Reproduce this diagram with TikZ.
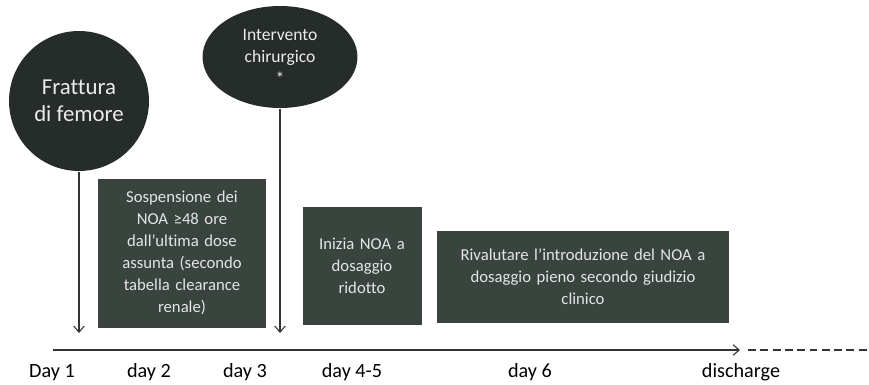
\documentclass[tikz,border=0pt]{standalone}
\usepackage{fontspec}
\setmainfont{Carlito}[Ligatures={TeX,NoCommon}]
\usetikzlibrary{arrows.meta,shapes.geometric}
\definecolor{scuro}{RGB}{38,44,41}
\definecolor{fondo}{RGB}{58,68,63}
\tikzset{
  evento/.style={fill=scuro,text=white!92!black,align=center,inner sep=0pt},
  fase/.style={fill=fondo,draw=black!75,line width=0.5pt,text=white!90!black,
    align=center,inner sep=2pt,font=\fontsize{9.5}{12.5}\selectfont},
  giorno/.style={anchor=base,font=\fontsize{11.5}{13}\selectfont},
}
\begin{document}
\begin{tikzpicture}[x=0.02cm,y=-0.02cm,line width=0.6pt,>={Straight Barb[length=3.5pt,width=6pt]}]
\useasboundingbox (0,0) rectangle (869,385);
% eventi
\node[evento,circle,minimum size=2.8cm,font=\fontsize{13}{15.5}\selectfont] (frattura) at (79,101) {Frattura\\di femore};
\node[evento,ellipse,minimum width=3.1cm,minimum height=2.04cm,font=\fontsize{10}{12.5}\selectfont] (intervento) at (280,57) {Intervento\\chirurgico\\*};
% fasi
\node[fase,minimum width=3.34cm,minimum height=2.96cm,text width=3.2cm] (sospensione) at (182,253)
  {Sospensione dei\\NOA ≥48 ore\\dall'ultima dose\\assunta (secondo\\tabella clearance\\renale)};
\node[fase,minimum width=2.36cm,minimum height=2.34cm,text width=2.2cm] (inizia) at (362,266)
  {Inizia NOA a\\dosaggio\\ridotto};
\node[fase,minimum width=5.82cm,minimum height=1.82cm,text width=5.6cm] (rivalutare) at (583,277)
  {Rivalutare l'introduzione del NOA a\\dosaggio pieno secondo giudizio\\clinico};
% frecce verso la linea del tempo
\coordinate (a1) at (79,333);
\coordinate (a2) at (280,333);
\draw[->,black!80] (frattura.south) -- (a1);
\draw[->,black!80] (intervento.south) -- (a2);
% linea del tempo
\coordinate (t0) at (53,350);
\coordinate (t1) at (740,350);
\coordinate (t2) at (748,350);
\coordinate (t3) at (869,350);
\draw[->,black!80] (t0) -- (t1);
\draw[black!80,dash pattern=on 4.5pt off 2.5pt] (t2) -- (t3);
% giorni
\foreach \x/\g [count=\i] in {52/Day 1,149/day 2,245/day 3,352/day 4-5,530/day 6,741/discharge}
  \node[giorno] (g\i) at (\x,377) {\g};
\end{tikzpicture}
\end{document}
